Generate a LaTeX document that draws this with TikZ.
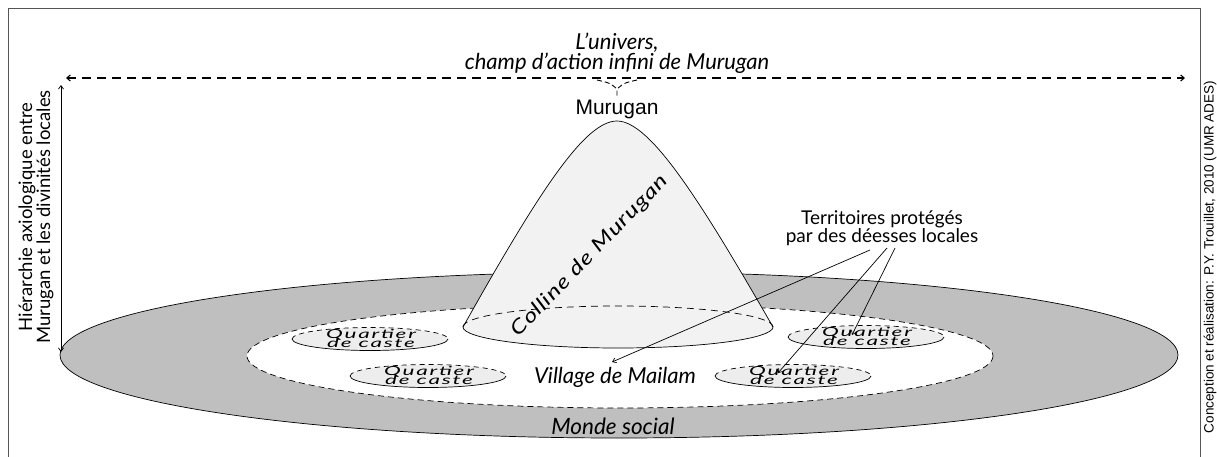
\documentclass[tikz,border=0pt]{standalone}
\usepackage{graphicx}
\usepackage{fontspec}
\setmainfont{Lato}
\newfontfamily\arialf{Liberation Sans}
\usetikzlibrary{arrows.meta}
\definecolor{ringgray}{HTML}{BFBFBF}
\definecolor{conegray}{HTML}{F2F2F2}
\definecolor{qgray}{HTML}{EDEDED}
\definecolor{framegray}{HTML}{555555}
\newcommand{\wide}[2]{\scalebox{#1}[1]{#2}}
\tikzset{
  thinline/.style={line width=0.7pt},
  tip/.style={-{Straight Barb[length=3.5pt,width=5pt]}},
  lbl/.style={inner sep=0pt, align=center},
  itlbl/.style={lbl, font={\fontsize{22}{18}\selectfont\itshape}},
  qtext/.style={inner sep=0pt, anchor=base, font={\fontsize{12.5}{12.5}\selectfont\itshape\addfontfeature{LetterSpace=8}}},
}
\begin{document}
\begin{tikzpicture}[x=1pt,y=-1pt]
\useasboundingbox (0,0) rectangle (1217,457);
\begin{scope}
\clip (0,0) rectangle (1217,457);
\draw[framegray, line width=1pt] (8,9) rectangle (1200,490);
\end{scope}
% outer ring
\filldraw[fill=ringgray, draw=black, thinline] (619,355) ellipse [x radius=559, y radius=83];
% village
\filldraw[fill=white, draw=black, thinline, dash pattern=on 6pt off 4pt] (620,356) ellipse [x radius=373, y radius=52];
% quartiers
\foreach \cx/\cy/\n in {370/339/q1, 428/376/q2, 866/337/q3, 793/376/q4} {
  \fill[qgray] (\cx,\cy) ellipse [x radius=78, y radius=11.5];
  \draw[thinline] ({\cx+78},\cy) arc[start angle=0,end angle=180,x radius=78,y radius=11.5];
  \draw[thinline, dash pattern=on 5pt off 4pt] ({\cx-78},\cy) arc[start angle=180,end angle=360,x radius=78,y radius=11.5];
  \node[qtext] (\n) at ({\cx+1},{\cy-1}) {\wide{1.8}{Quartier}};
  \node[qtext] (\n b) at ({\cx+1},{\cy+8}) {\wide{1.8}{de caste}};
}
% cone
\filldraw[fill=conegray, draw=black, thinline] (463,327) .. controls (540,190) and (585,121) .. (617,121)
  .. controls (650,121) and (700,200) .. (773,327)
  arc[start angle=0, end angle=180, x radius=155, y radius=21] -- cycle;
\draw[thinline, dash pattern=on 7pt off 5pt] (463,327) arc[start angle=180, end angle=360, x radius=155, y radius=21];
\node[lbl, rotate=46, font={\fontsize{19.5}{19.5}\selectfont\itshape\addfontfeature{LetterSpace=4}}] (colline) at (590,256) {\wide{1.28}{Colline de Murugan}};
% labels
\node[itlbl] (univ) at (617,53) {L'univers,\\champ d'action infini de Murugan};
\node[lbl, font={\arialf\fontsize{21}{20}\selectfont}] (murugan) at (617,109) {Murugan};
\node[lbl, font={\fontsize{22}{19}\selectfont\itshape}] (village) at (615,377) {Village de Mailam};
\node[lbl, font={\fontsize{22.5}{19}\selectfont\itshape}] (monde) at (613,426) {Monde social};
\node[lbl, font={\fontsize{19}{15.5}\selectfont}] (terr) at (882,228) {Territoires protégés\\par des déesses locales};
\node[lbl, font={\fontsize{18.5}{15.5}\selectfont}, rotate=90] (hier) at (36,217) {Hiérarchie axiologique entre\\Murugan et les divinités locales};
\node[lbl, font={\arialf\fontsize{13.5}{14}\selectfont}, rotate=90] (credit) at (1210,257) {Conception et réalisation: P.Y. Trouillet, 2010 (UMR ADES)};
% universe arrow
\coordinate (uL) at (66,78);
\coordinate (uR) at (1185,78);
\draw[line width=1.1pt, dash pattern=on 9pt off 6pt, {Straight Barb[length=3.5pt,width=6pt]}-{Straight Barb[length=3.5pt,width=6pt]}] (uL) -- (uR);
% brace
\coordinate (bL) at (597,80);
\coordinate (bR) at (637,80);
\coordinate (bM) at (617,89);
\draw[line width=0.9pt, dash pattern=on 5pt off 3pt] (bL) .. controls (610,83) .. (bM) -- (617,97);
\draw[line width=0.9pt, dash pattern=on 5pt off 3pt] (bR) .. controls (624,83) .. (bM);
% hierarchy arrow
\coordinate (hT) at (61,85);
\coordinate (hB) at (61,352);
\draw[thinline, {Straight Barb[length=3.5pt,width=5pt]}-{Straight Barb[length=3.5pt,width=5pt]}] (hT) -- (hB);
% leaders
\coordinate (ta) at (870,250);
\coordinate (tb) at (887,248);
\coordinate (tc) at (895,248);
\coordinate (va) at (612,362);
\coordinate (vb) at (778,373);
\coordinate (vc) at (852,335);
\draw[thinline, tip] (ta) -- (va);
\draw[thinline, tip] (tb) -- (vb);
\draw[thinline, tip] (tc) -- (vc);
\end{tikzpicture}
\end{document}
